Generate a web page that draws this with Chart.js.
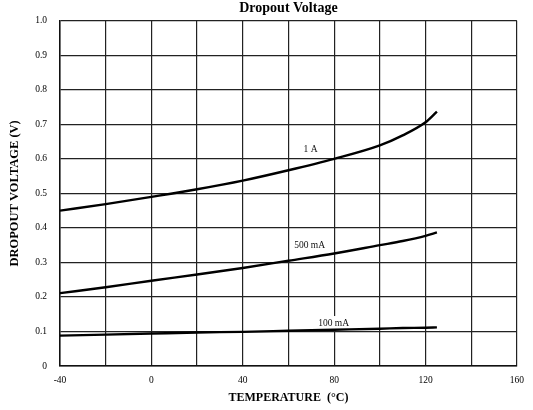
<!DOCTYPE html>
<html>
<head>
<meta charset="utf-8">
<title>Dropout Voltage</title>
<script src="https://cdn.jsdelivr.net/npm/chart.js@4.4.1/dist/chart.umd.min.js"></script>
<style>
   body { margin: 0; background: #fff; }
   canvas { display: block; }
</style>
</head>
<body>
<canvas id="dropout-chart" width="533" height="410"></canvas>
<script>
// temperatures (deg C) the curves were read at
var temps = [-40, -20, 0, 20, 40, 60, 80, 100, 110, 120, 125];

// dropout voltage (V) per load current
var load1A = [0.450, 0.469, 0.490, 0.512, 0.537, 0.567, 0.600, 0.639, 0.668, 0.706, 0.737];
var load500mA = [0.211, 0.228, 0.247, 0.265, 0.284, 0.305, 0.326, 0.350, 0.362, 0.377, 0.387];
var load100mA = [0.088, 0.091, 0.094, 0.097, 0.099, 0.102, 0.105, 0.108, 0.110, 0.111, 0.112];

var seriesNames = ['1 A', '500 mA', '100 mA'];
// where each curve name sits, in data units (temperature, volts)
var nameTemps = [69.7, 69.3, 79.8];
var nameVolts = [0.626, 0.350, 0.1245];

var FONT = '"Liberation Serif", "Times New Roman", serif';

var toPoints = function(values) {
   return temps.map(function(t, i) { return { x: t, y: values[i] }; });
};

var curveLabels = {
   id: 'curveLabels',
   beforeDatasetsDraw: function(chart) {
      var ctx = chart.ctx;
      var xs = chart.scales.x, ys = chart.scales.y;
      ctx.save();
      ctx.font = '9.5px ' + FONT;
      ctx.textAlign = 'center';
      ctx.textBaseline = 'middle';
      seriesNames.forEach(function(name, i) {
         var px = xs.getPixelForValue(nameTemps[i]);
         var py = ys.getPixelForValue(nameVolts[i]);
         var w = ctx.measureText(name).width;
         ctx.fillStyle = '#fff';
         ctx.fillRect(px - w / 2 - 2, py - 7, w + 4, 13);
         ctx.fillStyle = '#111';
         ctx.fillText(name, px, py);
      });
      ctx.restore();
   }
};

var line = function(values) {
   return {
      data: toPoints(values),
      borderColor: '#000',
      borderWidth: 2.4,
      pointRadius: 0,
      showLine: true,
      fill: false,
      cubicInterpolationMode: 'monotone'
   };
};

var config = {
   type: 'scatter',
   data: {
      datasets: [line(load1A), line(load500mA), line(load100mA)]
   },
   options: {
      responsive: false,
      animation: false,
      layout: { padding: { left: 0, right: 11, top: 0, bottom: 0 } },
      plugins: {
         legend: { display: false },
         tooltip: { enabled: false },
         title: {
            display: true,
            text: 'Dropout Voltage',
            color: '#000',
            fullSize: false,
            font: { family: FONT, size: 14, weight: 'bold' },
            padding: { top: 0, bottom: 4 }
         }
      },
      scales: {
         x: {
            type: 'linear',
            min: -40,
            max: 160,
            border: { color: '#111', width: 1.5 },
            grid: { color: '#222', lineWidth: 1.2, drawTicks: false },
            ticks: {
               stepSize: 20,
               padding: 9,
               color: '#000',
               maxRotation: 0,
               autoSkip: false,
               font: { family: FONT, size: 9.5 },
               callback: function(v) { return v % 40 === 0 ? String(v) : ''; }
            },
            title: {
               display: true,
               text: 'TEMPERATURE  (\u00B0C)',
               color: '#000',
               font: { family: FONT, size: 12, weight: 'bold' },
               padding: { top: 0, bottom: 5 }
            },
            afterFit: function(scale) { scale.height = 44; }
         },
         y: {
            min: 0,
            max: 1,
            border: { color: '#111', width: 1.5 },
            grid: { color: '#222', lineWidth: 1.2, drawTicks: false },
            ticks: {
               stepSize: 0.1,
               padding: 13,
               color: '#000',
               font: { family: FONT, size: 9.5 },
               callback: function(v) { return v === 0 ? '0' : v.toFixed(1); }
            },
            title: {
               display: true,
               text: 'DROPOUT VOLTAGE (V)',
               color: '#000',
               font: { family: FONT, size: 12.5, weight: 'bold' },
               padding: { top: 7, bottom: 0 }
            },
            afterFit: function(scale) { scale.width = 60; }
         }
      }
   },
   plugins: [curveLabels]
};

var ctx = document.getElementById('dropout-chart').getContext('2d');
var chart = new Chart(ctx, config);
</script>
</body>
</html>
